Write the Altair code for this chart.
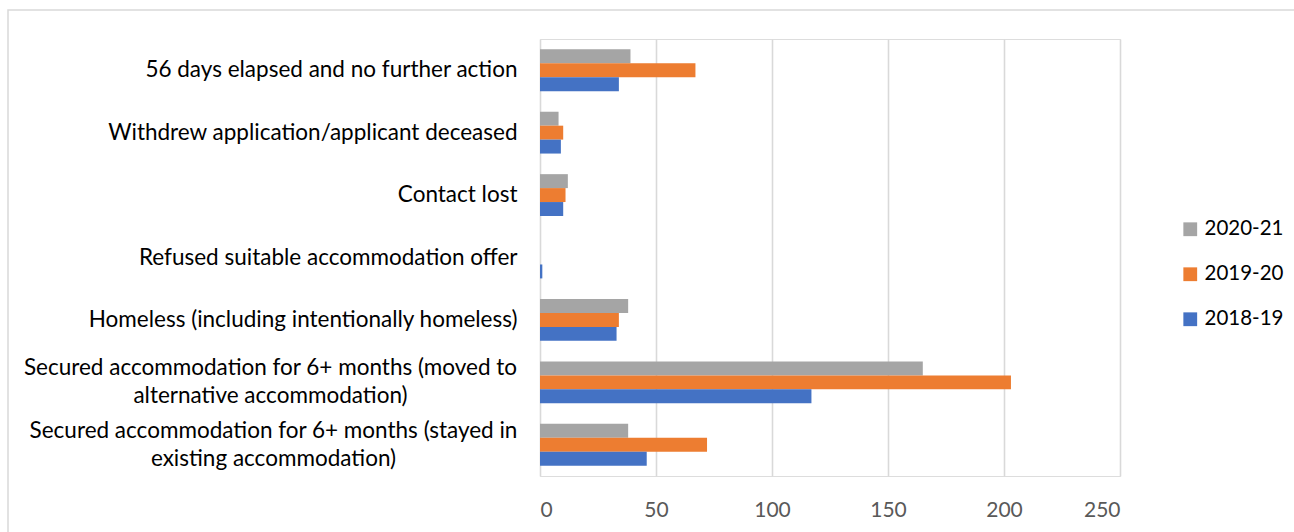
import altair as alt
import pandas as pd

categories = [
    "56 days elapsed and no further action",
    "Withdrew application/applicant deceased",
    "Contact lost",
    "Refused suitable accommodation offer",
    "Homeless (including intentionally homeless)",
    "Secured accommodation for 6+ months (moved to\nalternative accommodation)",
    "Secured accommodation for 6+ months (stayed in\nexisting accommodation)",
]
series = ["2020-21", "2019-20", "2018-19"]
colors = ["#A5A5A5", "#ED7D31", "#4472C4"]
v_2020_21 = [39, 8, 12, 0, 38, 165, 38]
v_2019_20 = [67, 10, 11, 0, 34, 203, 72]
v_2018_19 = [34, 9, 10, 1, 33, 117, 46]
x_ticks = [0, 50, 100, 150, 200, 250]

rows = []
for s, vals in zip(series, [v_2020_21, v_2019_20, v_2018_19]):
    for c, v in zip(categories, vals):
        rows.append({"category": c, "year": s, "value": v})
df = pd.DataFrame(rows)

FONT = "Lato"
MULTI = "indexof(datum.value, '\\n') >= 0"

bars = alt.Chart(df).mark_bar().encode(
    y=alt.Y("category:N", sort=categories, title=None,
            scale=alt.Scale(paddingInner=0.33, paddingOuter=0.165),
            axis=alt.Axis(domain=False, ticks=False, tickSize=0,
                          labelPadding={"condition": [
                              {"test": "indexof(datum.value, 'moved') >= 0", "value": 23 + 247},
                              {"test": "indexof(datum.value, 'stayed') >= 0", "value": 23 + 244}],
                              "value": 23},
                          labelAlign={"condition": {"test": MULTI, "value": "center"},
                                      "value": "right"},
                          labelFontSize=22.5, labelFont=FONT, labelColor="#000000",
                          labelLimit=700, labelLineHeight=28,
                          labelOffset={"condition": {"test": MULTI, "value": -14},
                                       "value": 0},
                          labelExpr="split(datum.label, '\\n')")),
    yOffset=alt.YOffset("year:N", sort=series),
    x=alt.X("value:Q", title=None,
            scale=alt.Scale(domain=[0, 250], nice=False),
            axis=alt.Axis(values=x_ticks, domain=False, ticks=False, tickSize=0,
                          labelPadding=23, labelFontSize=21, labelFont=FONT,
                          labelColor="#595959", grid=True, gridColor="#D9D9D9",
                          gridWidth=1.6)),
    color=alt.Color("year:N", scale=alt.Scale(domain=series, range=colors),
                    legend=alt.Legend(title=None, orient="none", legendX=640, legendY=180,
                                      symbolType="square", symbolSize=190,
                                      symbolStrokeWidth=0, labelFontSize=20.5,
                                      labelFont=FONT, labelColor="#000000",
                                      rowPadding=24, labelOffset=4, padding=0)),
)

border = alt.Chart(pd.DataFrame({"k": [0]})).mark_rect(
    fill=None, stroke="#D9D9D9", strokeWidth=1.5
).encode(
    x=alt.value(-532), x2=alt.value(760),
    y=alt.value(-29), y2=alt.value(500),
)

chart = alt.layer(border, bars).properties(
    width=580, height=437,
    autosize=alt.AutoSizeParams(type="none"),
    padding={"left": 540, "top": 39, "right": 174, "bottom": 56},
).configure_view(stroke=None).configure(background="white")

chart.save("out.html", embed_options={"renderer": "svg", "actions": False})
